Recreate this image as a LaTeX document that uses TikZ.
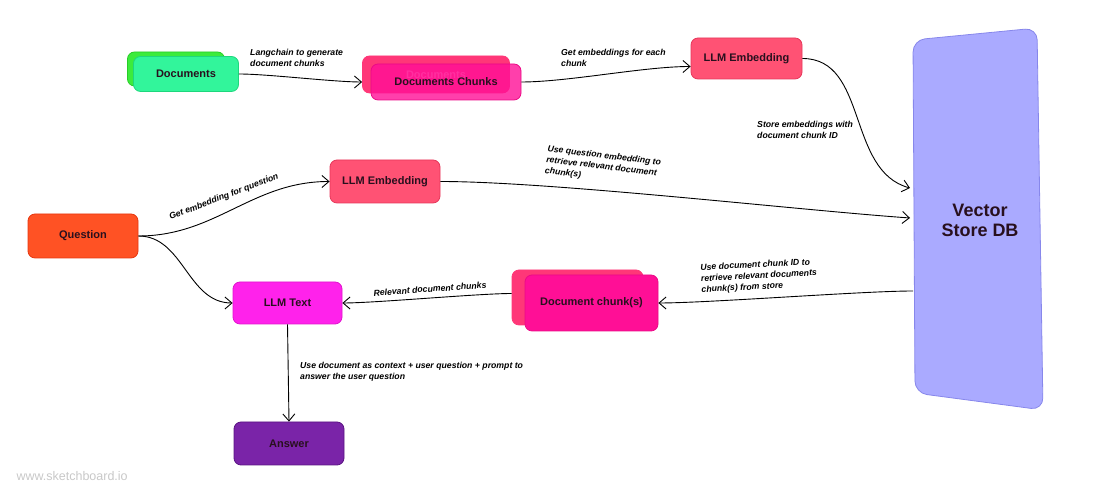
\documentclass[tikz,border=0pt]{standalone}
\usepackage{fontspec}
\setmainfont{Liberation Sans}
\usepackage{tikz}
\usetikzlibrary{arrows.meta,positioning,calc}
\usepackage{xcolor}
\definecolor{TextD}  {RGB}{40,  16,  30}
\definecolor{DocG}   {RGB}{60,  235, 60}
\definecolor{DocGB}  {RGB}{40,  205, 40}
\definecolor{MintG}  {RGB}{50,  245, 155}
\definecolor{MintGB} {RGB}{30,  215, 125}
\definecolor{PinkB}  {RGB}{255, 55,  120}
\definecolor{PinkF}  {RGB}{255, 15,  150}
\definecolor{PinkFB} {RGB}{235, 10,  135}
\definecolor{EmbR}   {RGB}{255, 82,  116}
\definecolor{EmbRB}  {RGB}{230, 55,  90}
\definecolor{QuesO}  {RGB}{255, 82,  36}
\definecolor{QuesOB} {RGB}{230, 55,  15}
\definecolor{TextM}  {RGB}{255, 34,  235}
\definecolor{TextMB} {RGB}{225, 20,  205}
\definecolor{AnsP}   {RGB}{122, 36,  168}
\definecolor{AnsPB}  {RGB}{90,  20,  130}
\definecolor{VecB}   {RGB}{170, 170, 255}
\definecolor{VecBB}  {RGB}{135, 135, 235}
\definecolor{WaterG} {RGB}{200, 200, 200}
\tikzset{
  card/.style={rounded corners=7pt, line width=0.8pt, inner sep=0pt,
    font=\fontsize{11}{13}\selectfont\bfseries, text=TextD},
  conn/.style={-{Straight Barb[length=7pt,width=12pt]}, line width=0.9pt},
  lbl/.style={font=\fontsize{8.7}{11}\selectfont\bfseries\itshape,
    align=left, inner sep=0pt}
}
\begin{document}
\begin{tikzpicture}[x=1pt,y=1pt]
        \useasboundingbox (0,0) rectangle (1100,494);
        % indexing side
        \node[card,fill=DocG,draw=DocGB,minimum width=97pt,minimum height=34pt] (docsback) at (176,425) {};
        \node[card,fill=MintG,draw=MintGB,minimum width=105pt,minimum height=35pt] (docs) at (186,420) {Documents};
        \node[card,fill=PinkB,draw=PinkB,minimum width=147pt,minimum height=37pt,text=PinkB!40!white] (chunksback) at (436,419.5) {Documents};
        \node[card,fill=PinkF,draw=PinkFB,fill opacity=0.8,text opacity=1,minimum width=150pt,minimum height=36pt] (chunks) at (446,412) {Documents Chunks};
        \node[card,fill=EmbR,draw=EmbRB,minimum width=111pt,minimum height=41pt] (embtop) at (746.5,435.5) {LLM Embedding};
        % vector store
        \draw[fill=VecB,draw=VecBB,line width=0.8pt,rounded corners=12pt]
          (913,454) -- (1037,466) -- (1043,84) -- (915,101) -- cycle;
        \node[font=\fontsize{18}{20}\selectfont\bfseries,align=center,text=TextD] (vdb) at (980,274) {Vector\\Store DB};
        \coordinate (vin1) at (910,306);
        \coordinate (vin2) at (910,276);
        \coordinate (vout) at (913,203);
        % query side
        \node[card,fill=EmbR,draw=EmbRB,minimum width=110pt,minimum height=43pt] (embmid) at (385,312.5) {LLM Embedding};
        \node[card,fill=QuesO,draw=QuesOB,minimum width=110pt,minimum height=44pt] (question) at (83,258) {Question};
        \node[card,fill=TextM,draw=TextMB,minimum width=109pt,minimum height=42pt] (llmtext) at (287.5,191) {LLM Text};
        \node[card,fill=PinkB,draw=PinkB,minimum width=131pt,minimum height=55pt] (dcback) at (577.5,196.5) {};
        \node[card,fill=PinkF,draw=PinkFB,minimum width=133pt,minimum height=56pt] (dc) at (591.5,191) {Document chunk(s)};
        \node[card,fill=AnsP,draw=AnsPB,minimum width=110pt,minimum height=43pt] (answer) at (289,50.5) {Answer};
        % connectors
        \draw[conn] (docs.east) to[out=0,in=180,looseness=0.6] (chunksback.west |- chunks.center);
        \draw[conn] (chunks.east) to[out=0,in=180,looseness=0.7] ([yshift=-8pt]embtop.west);
        \draw[conn] (embtop.east) to[out=0,in=165] (vin1);
        \draw[conn] (question.east) to[out=0,in=180] (embmid.west);
        \draw[conn] (embmid.east) to[out=0,in=176,looseness=0.6] (vin2);
        \draw[conn] (question.east) to[out=0,in=180] (llmtext.west);
        \draw[conn] (vout) to[out=180,in=0,looseness=0.5] (dc.east);
        \draw[conn] ([yshift=4pt]dcback.west) to[out=180,in=0,looseness=0.5] (llmtext.east);
        \draw[conn] (llmtext.south) -- (answer.north);
        % labels
        \node[lbl,anchor=north west] (l1) at (250,445) {Langchain to generate\\document chunks};
        \node[lbl,anchor=north west] (l2) at (561,445) {Get embeddings for each\\chunk};
        \node[lbl,anchor=north west] (l3) at (757,373) {Store embeddings with\\document chunk ID};
        \node[lbl,rotate=21] (l4) at (224,297) {Get embedding for question};
        \node[lbl,anchor=north west,rotate=-7] (l5) at (548,349) {Use question embedding to\\retrieve relevant document\\chunk(s)};
        \node[lbl,anchor=north west,rotate=3] (l6) at (700,230) {Use document chunk ID to\\retrieve relevant documents\\chunk(s) from store};
        \node[lbl,rotate=4] (l7) at (430,205) {Relevant document chunks};
        \node[lbl,anchor=north west] (l8) at (300,132) {Use document as context + user question + prompt to\\answer the user question};
        \node[anchor=west,text=WaterG,font=\fontsize{12.5}{14}\selectfont] (wm) at (13,18) {www.sketchboard.io};
      \end{tikzpicture}
\end{document}
